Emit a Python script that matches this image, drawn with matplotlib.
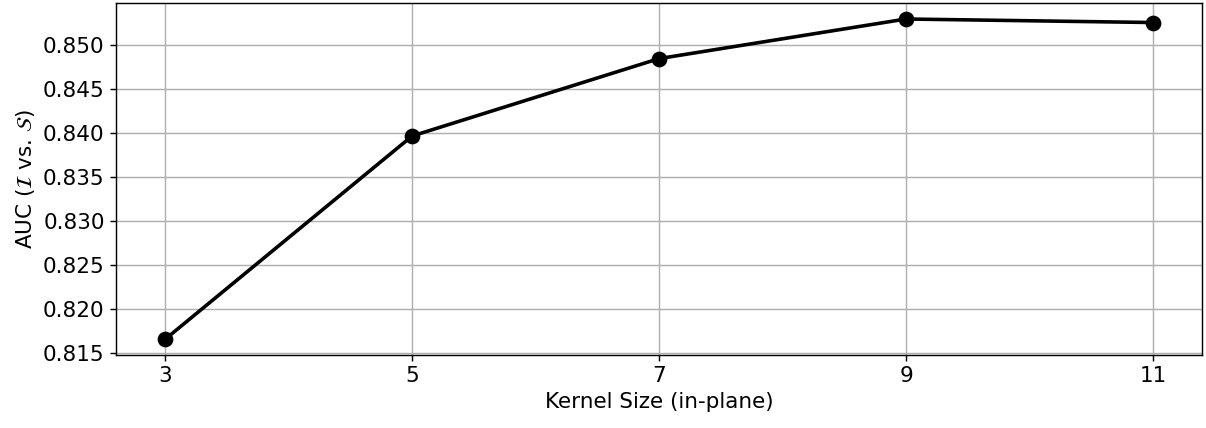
import matplotlib
matplotlib.use("Agg")
import matplotlib.pyplot as plt

kernel_sizes = [3, 5, 7, 9, 11]
auc_values = [0.8166, 0.8397, 0.8485, 0.8530, 0.8526]

s = 1.29
plt.rcParams['font.size'] = 12 * s
plt.rcParams['xtick.major.size'] = 3.5 * s
plt.rcParams['ytick.major.size'] = 3.5 * s
plt.rcParams['xtick.major.width'] = 0.8 * s
plt.rcParams['ytick.major.width'] = 0.8 * s
fig, ax = plt.subplots(figsize=(12.06, 4.28), dpi=100)
ax.plot(kernel_sizes, auc_values, color='black', marker='o', linewidth=2 * s, markersize=8 * s)
ax.set_xticks(kernel_sizes)
ax.set_yticks([0.815, 0.820, 0.825, 0.830, 0.835, 0.840, 0.845, 0.850])
ax.set_xlabel('Kernel Size (in-plane)')
ax.set_ylabel(r'AUC ($\mathcal{I}$ vs. $\mathcal{S}$)')
ax.grid(True, color='#b0b0b0', linewidth=0.8 * s)
for sp in ax.spines.values():
    sp.set_linewidth(0.8 * s)
fig.subplots_adjust(left=0.096, right=0.997, top=0.993, bottom=0.17)
fig.savefig('out.png', dpi=100)
